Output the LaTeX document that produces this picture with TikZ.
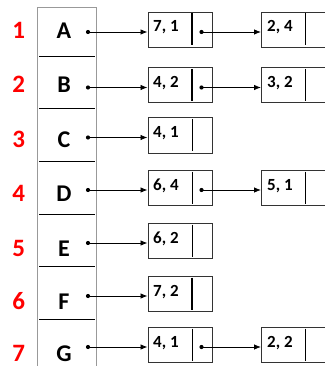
\documentclass[tikz,border=0pt]{standalone}
\usepackage{fontspec}
\setmainfont{Carlito}
\usetikzlibrary{arrows.meta}
\begin{document}
\begin{tikzpicture}[x=1pt,y=-1pt,
  cell/.style={draw=black!80,line width=0.8pt,minimum width=64pt,minimum height=35pt,inner sep=0,anchor=north west},
  lbl/.style={font=\fontsize{24}{24}\selectfont\bfseries,inner sep=0,anchor=base},
  num/.style={font=\fontsize{25}{25}\selectfont\bfseries,text=red,inner sep=0,anchor=base},
  val/.style={font=\fontsize{17}{17}\selectfont\bfseries,anchor=base west,inner sep=0},
  ptr/.style={-{Latex[length=7pt,width=5.5pt]},line width=0.8pt},
  dotc/.style={circle,fill=black,inner sep=0,minimum size=4.2pt},
  colline/.style={draw=black!40,line width=0.8pt},
  sepline/.style={line width=0.8pt}]
\useasboundingbox (0,0) rectangle (324,366);
% column
\draw[colline] (37.7,372) -- (37.7,7.3) -- (96.7,7.3) -- (96.7,372);
\foreach \s in {56.3,108.9,161.5,214.1,266.7,319.3}
  \draw[sepline] (39,\s) -- (95,\s);
% rows with first boxes
\foreach \i/\L/\dy/\ly/\va/\w in {1/A/32/31/{7, 1}/2.4pt, 2/B/87.5/85/{4, 2}/2.4pt, 3/C/137.5/140/{4, 1}/0.8pt, 4/D/190/194/{6, 4}/0.8pt, 5/E/243/248.5/{6, 2}/0.8pt, 6/F/296/301.7/{7, 2}/2.4pt, 7/G/347/354/{4, 1}/0.8pt}{
  \node[num] (n\i) at (18.7,\ly+7.7) {\i};
  \node[lbl] (l\i) at (64,\ly+7.7) {\L};
  \node[dotc] (p\i) at (88,\dy) {};
  \node[cell] (b\i) at (147.5,\dy-20) {};
  \draw[line width=\w] (192,\dy-18.5) -- (192,\dy+13.5);
  \node[val] (v\i) at (153,\dy) {\va};
  \draw[ptr] (p\i.center) -- (p\i -| b\i.west);
}
% second boxes
\foreach \i/\dy/\vb in {1/32/{2, 4}, 2/87.5/{3, 2}, 4/190/{5, 1}, 7/347/{2, 2}}{
  \node[dotc] (q\i) at (201.5,\dy) {};
  \node[cell] (c\i) at (261,\dy-20) {};
  \draw[line width=0.8pt] (305,\dy-18.5) -- (305,\dy+13.5);
  \node[val] (w\i) at (267,\dy) {\vb};
  \draw[ptr] (q\i.center) -- (q\i -| c\i.west);
}
\end{tikzpicture}
\end{document}
